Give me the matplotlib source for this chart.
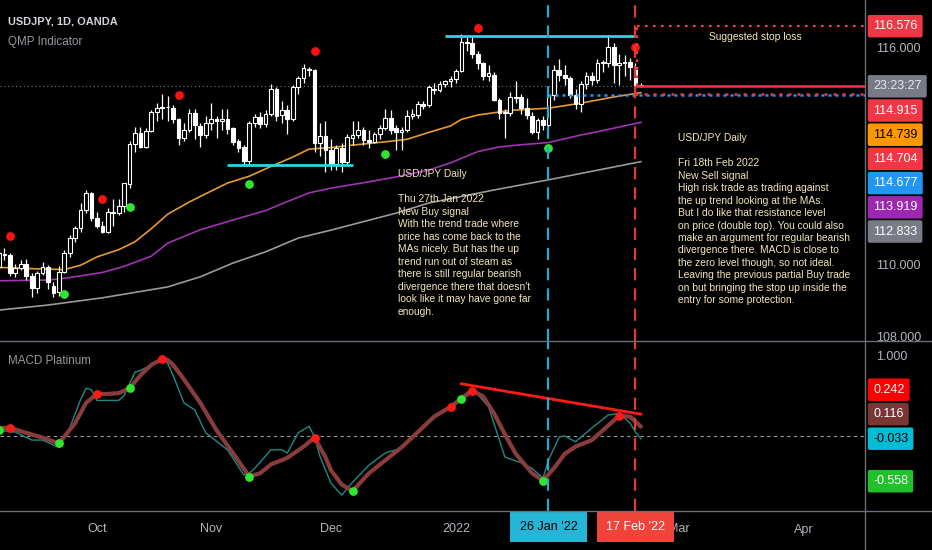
import numpy as np
import pandas as pd
import matplotlib
matplotlib.use("Agg")
import matplotlib.pyplot as plt
import matplotlib.transforms as mtransforms
from matplotlib.lines import Line2D

plt.rcParams['font.family'] = ['Liberation Sans', 'DejaVu Sans']

# trading-day calendar, bar 0 = Mon 6 Sep 2021, candles start on bar 1 (7 Sep)
calendar_start = '2021-09-06'
first_bar = 1

opens = [109.92, 110.28, 110.25, 109.75, 109.90, 110.01, 109.68, 109.35, 109.75, 109.93,
         109.40, 109.24, 109.79, 110.30, 110.72, 111.00, 111.50, 111.98, 111.27, 111.06,
         110.90, 111.45, 111.41, 111.62, 112.22, 113.32, 113.62, 113.25, 113.69, 114.20,
         114.31, 114.35, 114.31, 114.00, 113.48, 113.71, 114.17, 113.82, 113.57, 113.91,
         114.00, 113.96, 114.00, 113.75, 113.41, 113.25, 112.85, 113.89, 114.06, 113.87,
         114.15, 114.83, 114.12, 114.26, 114.00, 114.89, 115.14, 115.38, 115.36, 113.36,
         113.54, 113.15, 112.76, 113.20, 112.83, 113.50, 113.57, 113.71, 113.43, 113.38,
         113.59, 113.75, 114.05, 113.75, 113.66, 113.71, 114.10, 114.12, 114.42, 114.40,
         114.85, 114.81, 114.98, 115.07, 115.11, 115.35, 116.15, 116.12, 115.82, 115.55,
         115.20, 115.23, 114.55, 114.17, 114.17, 114.61, 114.61, 114.31, 114.10, 113.66,
         113.99, 113.85, 114.67, 115.36, 115.23, 115.14, 114.67, 114.43, 114.97, 115.20,
         115.09, 115.55, 115.55, 116.00, 115.50, 115.55, 115.60, 115.46, 114.94]
highs = [110.40, 110.45, 110.30, 110.00, 110.12, 110.15, 109.75, 109.82, 110.05, 109.98,
         109.50, 109.95, 110.40, 110.80, 111.05, 111.70, 112.05, 112.00, 111.45, 111.20,
         111.55, 111.80, 111.80, 112.25, 113.40, 113.80, 113.80, 113.75, 114.25, 114.45,
         114.70, 114.65, 114.40, 114.05, 113.90, 114.30, 114.30, 113.90, 114.10, 114.45,
         114.10, 114.30, 114.30, 113.80, 113.45, 113.30, 113.95, 114.15, 114.20, 114.25,
         114.97, 114.90, 114.50, 114.40, 114.95, 115.20, 115.52, 115.45, 115.40, 113.90,
         113.95, 113.45, 113.30, 113.35, 113.60, 113.95, 113.95, 113.80, 113.70, 113.65,
         113.85, 114.30, 114.25, 113.85, 113.80, 114.25, 114.30, 114.50, 114.50, 114.95,
         115.00, 115.05, 115.10, 115.20, 115.40, 116.35, 116.30, 116.30, 115.90, 115.60,
         115.50, 115.30, 114.60, 114.30, 114.75, 115.05, 114.70, 114.60, 114.20, 114.05,
         114.10, 114.70, 115.50, 115.68, 115.50, 115.20, 114.85, 115.05, 115.30, 115.30,
         115.68, 115.65, 116.34, 116.10, 115.80, 115.78, 115.70, 115.55, 115.00]
lows = [109.85, 110.12, 109.68, 109.65, 109.85, 109.55, 109.10, 109.20, 109.70, 109.30,
        109.10, 109.12, 109.75, 110.20, 110.60, 110.90, 111.40, 111.20, 111.00, 110.85,
        110.85, 111.05, 111.35, 111.45, 112.10, 113.10, 113.20, 113.20, 113.65, 113.95,
        114.00, 113.95, 113.90, 113.30, 113.40, 113.65, 113.45, 113.25, 113.50, 113.70,
        113.50, 113.70, 113.60, 113.30, 113.10, 112.73, 112.75, 113.80, 113.75, 113.80,
        114.10, 113.95, 113.90, 113.60, 113.95, 114.70, 115.00, 115.20, 113.10, 113.00,
        112.55, 112.60, 112.60, 112.55, 112.75, 113.30, 113.50, 113.30, 113.20, 113.35,
        113.45, 113.70, 113.60, 113.15, 113.15, 113.65, 114.00, 114.05, 114.30, 114.35,
        114.70, 114.75, 114.90, 114.90, 115.00, 115.30, 115.90, 115.70, 115.40, 115.10,
        115.05, 114.50, 114.00, 113.50, 114.10, 114.45, 114.15, 114.00, 113.60, 113.47,
        113.70, 113.75, 114.55, 115.05, 114.95, 114.60, 114.30, 114.20, 114.85, 114.95,
        115.00, 115.30, 115.45, 115.00, 114.95, 115.20, 115.10, 114.80, 114.90]
closes = [110.30, 110.24, 109.75, 109.89, 110.00, 109.67, 109.33, 109.75, 109.93, 109.52,
          109.21, 109.79, 110.32, 110.72, 111.01, 111.50, 111.96, 111.27, 111.06, 110.90,
          111.45, 111.41, 111.62, 112.23, 113.32, 113.62, 113.25, 113.69, 114.21, 114.31,
          114.35, 114.33, 114.00, 113.48, 113.71, 114.17, 113.85, 113.57, 113.91, 114.00,
          113.96, 114.00, 113.73, 113.38, 113.22, 112.85, 113.91, 114.06, 113.87, 114.15,
          114.83, 114.09, 114.26, 114.00, 114.89, 115.14, 115.41, 115.36, 113.36, 113.54,
          113.15, 112.74, 113.20, 112.83, 113.52, 113.57, 113.71, 113.43, 113.38, 113.59,
          113.75, 114.05, 113.71, 113.66, 113.71, 114.10, 114.14, 114.42, 114.38, 114.90,
          114.81, 114.98, 115.07, 115.11, 115.35, 116.15, 116.10, 115.82, 115.55, 115.20,
          115.27, 114.55, 114.17, 114.20, 114.61, 114.60, 114.31, 114.12, 113.66, 113.99,
          113.85, 114.67, 115.36, 115.23, 115.14, 114.67, 114.43, 114.97, 115.20, 115.09,
          115.57, 115.60, 116.00, 115.50, 115.55, 115.60, 115.46, 114.94, 114.915]

# moving averages read at selected bars
fast_bar = [1, 8, 13, 16, 19, 23, 26, 29, 32, 36, 40, 43, 47, 51, 55, 58, 62, 66, 72, 76,
            80, 84, 86, 89, 95, 102, 108, 114, 119]
fast_ma = [109.91, 109.87, 109.85, 109.97, 110.20, 110.40, 110.62, 110.98, 111.38, 111.72,
           112.02, 112.24, 112.43, 112.70, 112.96, 113.18, 113.22, 113.29, 113.38, 113.45,
           113.64, 113.82, 114.00, 114.12, 114.25, 114.31, 114.45, 114.62, 114.739]
mid_bar = [1, 10, 14, 20, 24, 29, 32, 38, 44, 50, 54, 58, 62, 68, 74, 80, 84, 89, 93, 97,
           102, 108, 111, 119]
mid_ma = [109.54, 109.56, 109.63, 109.77, 109.94, 110.22, 110.58, 110.95, 111.22, 111.48,
          111.73, 111.97, 112.10, 112.25, 112.41, 112.60, 112.80, 113.11, 113.24, 113.30,
          113.36, 113.57, 113.66, 113.919]
slow_bar = [1, 10, 20, 32, 38, 44, 50, 56, 62, 74, 80, 92, 102, 119]
slow_ma = [108.73, 108.87, 109.07, 109.37, 109.65, 110.03, 110.34, 110.72, 110.94, 111.41,
           111.69, 112.05, 112.33, 112.833]

# QMP signal dots
sell_bar = [3, 20, 34, 59, 89, 118]
sell_px = [110.78, 111.80, 114.67, 115.89, 116.52, 116.00]
buy_bar = [13, 25, 47, 72, 102]
buy_px = [109.18, 111.58, 112.22, 113.04, 113.20]

# levels
support = (43, 66, 112.75)
resistance = (83, 118, 116.30)
stop_loss = 116.576
sell_entry = 114.704
buy_entry = 114.677
buy_signal_bar = 102
sell_signal_bar = 118

# MACD Platinum
macd_bar = [1, 4, 7, 9, 11, 12, 14, 16, 17, 18, 19, 21, 23, 24, 26, 27, 29, 31, 32, 33,
            35, 37, 39, 43, 46, 47, 48, 51, 53, 54, 56, 58, 59, 60, 62, 64, 66, 69, 72, 75,
            78, 82, 86, 88, 91, 94, 97, 99, 101, 102, 104, 105, 107, 110, 113, 115, 117, 118, 119]
macd = [0.07, 0.05, -0.05, -0.05, -0.11, -0.14, 0.10, 0.45, 0.59, 0.57, 0.44, 0.44, 0.44,
        0.50, 0.79, 0.81, 0.88, 0.96, 0.90, 0.75, 0.41, 0.32, 0.04, -0.17, -0.48, -0.46,
        -0.40, -0.17, -0.17, -0.21, 0.04, 0.12, -0.01, -0.25, -0.58, -0.73, -0.57, -0.36,
        -0.21, -0.15, 0.04, 0.28, 0.48, 0.59, 0.36, -0.26, -0.33, -0.40, -0.52, -0.30,
        -0.01, 0.0, -0.07, 0.10, 0.26, 0.28, 0.16, 0.05, -0.033]
sig_bar = [1, 3, 5, 7, 9, 12, 15, 17, 19, 21, 23, 25, 27, 29, 31, 32, 33, 35, 38, 41, 44,
           47, 49, 51, 54, 57, 59, 61, 62, 64, 66, 69, 72, 75, 78, 81, 84, 86, 88, 90, 92,
           94, 96, 98, 99, 101, 103, 105, 107, 110, 112, 115, 117, 119]
signal = [0.10, 0.10, 0.06, 0.02, -0.02, -0.09, 0.16, 0.41, 0.52, 0.52, 0.53, 0.59, 0.75,
          0.88, 0.95, 0.94, 0.88, 0.70, 0.41, 0.07, -0.21, -0.50, -0.46, -0.35, -0.27,
          -0.13, -0.02, -0.26, -0.42, -0.60, -0.68, -0.46, -0.30, -0.14, 0.05, 0.24, 0.36,
          0.46, 0.56, 0.49, 0.28, 0.02, -0.22, -0.38, -0.46, -0.55, -0.40, -0.22, -0.13,
          -0.05, 0.07, 0.25, 0.24, 0.116]
macd_sell_bar = [3, 19, 31, 59, 84, 88, 115]
macd_sell = [0.10, 0.52, 0.95, -0.02, 0.36, 0.56, 0.25]
macd_buy_bar = [1, 12, 25, 47, 66, 86, 101]
macd_buy = [0.08, -0.09, 0.59, -0.50, -0.68, 0.46, -0.55]
div_bar = [86, 119]
div_val = [0.645, 0.27]
macd_tags = [(0.242, '#ff0000', 'white'), (0.116, '#7a3535', 'white'),
             (-0.033, '#00bcd4', 'black'), (-0.558, '#22c02a', 'white')]

note_buy = ("USD/JPY Daily\n\nThu 27th Jan 2022\nNew Buy signal\nWith the trend trade where\n"
            "price has come back to the\nMAs nicely. But has the up\ntrend run out of steam as\n"
            "there is still regular bearish\ndivergence there that doesn't\n"
            "look like it may have gone far\nenough.")
note_sell = ("USD/JPY Daily\n\nFri 18th Feb 2022\nNew Sell signal\n"
             "High risk trade as trading against\nthe up trend looking at the MAs.\n"
             "But I do like that resistance level\non price (double top). You could also\n"
             "make an argument for regular bearish\ndivergence there. MACD is close to\n"
             "the zero level though, so not ideal.\nLeaving the previous partial Buy trade\n"
             "on but bringing the stop up inside the\nentry for some protection.")

W, H = 932, 550
BG = 'black'
AXC = '#b2b5be'
NOTE = '#f3e4b8'
GRID = '#6a6d78'


def box(x0, y0, x1, y1):
    return [x0 / W, 1 - y1 / H, (x1 - x0) / W, (y1 - y0) / H]


px = 0.72  # points per pixel at dpi 100

if __name__ == '__main__':
    dates = pd.bdate_range(calendar_start, periods=175)

    fig = plt.figure(figsize=(9.32, 5.5), dpi=100, facecolor=BG)
    ax = fig.add_axes(box(0, 0, 865, 340.5), facecolor=BG)
    axm = fig.add_axes(box(0, 340.5, 865, 510.5), facecolor=BG, sharex=ax)
    for a in (ax, axm):
        for s in a.spines.values():
            s.set_visible(False)
        a.yaxis.tick_right()
        a.tick_params(axis='y', length=0, pad=11 * px, labelsize=9, labelcolor=AXC)
    ax.tick_params(axis='x', length=0, labelbottom=False)
    axm.tick_params(axis='x', length=0, pad=13 * px, labelsize=9, labelcolor=AXC)

    ax.set_xlim(1.18, 160.2)
    ax.set_ylim(107.89, 117.30)
    axm.set_ylim(-0.92, 1.18)

    ax.set_yticks([108, 110, 116])
    ax.set_yticklabels([f'{v:.3f}' for v in (108, 110, 116)])
    axm.set_yticks([1.0])
    axm.set_yticklabels(['1.000'])

    # month ticks (Feb sits under the highlighted date tag, so it is left out)
    mpos, mlab = [], []
    for per in pd.period_range('2021-10', '2022-04', freq='M'):
        if per.month == 2:
            continue
        idx = np.where((dates.year == per.year) & (dates.month == per.month))[0][0]
        mpos.append(idx)
        mlab.append(str(per.year) if per.month == 1 else dates[idx].strftime('%b'))
    axm.set_xticks(mpos)
    axm.set_xticklabels(mlab)

    # moving averages
    ax.plot(slow_bar, slow_ma, color='#9a9a9a', lw=1.2, zorder=2)
    ax.plot(mid_bar, mid_ma, color='#a232b4', lw=1.2, zorder=2)
    ax.plot(fast_bar, fast_ma, color='#e89a2c', lw=1.2, zorder=2)

    # candles (hollow up, filled down)
    o, h, l, c = map(np.array, (opens, highs, lows, closes))
    x = np.arange(first_bar, first_bar + len(o))
    lo, hi = np.minimum(o, c), np.maximum(o, c)
    ax.vlines(x, l, lo, color='white', lw=0.9, zorder=3)
    ax.vlines(x, hi, h, color='white', lw=0.9, zorder=3)
    ax.bar(x, np.maximum(hi - lo, 0.015), bottom=lo, width=0.68,
           color=np.where(c >= o, BG, 'white'), edgecolor='white', linewidth=0.8, zorder=4)

    ax.plot(sell_bar, sell_px, 'o', color='#ff1010', ms=6.3, mec='none', zorder=5)
    ax.plot(buy_bar, buy_px, 'o', color='#2ee62e', ms=6.3, mec='none', zorder=5)

    # support / resistance
    ax.hlines(support[2], support[0], support[1], color='#2bd4e4', lw=2.0, zorder=5)
    ax.hlines(resistance[2], resistance[0], resistance[1], color='#2bd4e4', lw=2.0, zorder=5)

    # trade lines
    right = ax.get_xlim()[1]
    ax.axhline(closes[-1], color='#777777', lw=0.8, ls=(0, (1, 2.5)), zorder=1)
    ax.hlines(closes[-1], sell_signal_bar, right, color='#f23645', lw=1.8, zorder=5)
    ax.hlines(buy_entry, buy_signal_bar, right, color='#2196f3', lw=1.8, ls=(0, (1.2, 1.6)), zorder=5)
    ax.hlines(sell_entry, sell_signal_bar, right, color='#f23645', lw=1.8, ls=(0, (1.2, 2.4)), zorder=5)
    ax.hlines(stop_loss, sell_signal_bar + 0.3, right, color='#f23645', lw=1.6, ls=(0, (1.2, 2.4)), zorder=5)
    ax.vlines(sell_signal_bar + 0.3, closes[-1], stop_loss, color='#f23645', lw=1.6, ls=(0, (1.2, 2.4)), zorder=5)

    for a in (ax, axm):
        a.axvline(buy_signal_bar, color='#27a9cf', lw=1.6, ls=(0, (5.5, 3.6)), zorder=6)
        a.axvline(sell_signal_bar, color='#e53935', lw=1.6, ls=(0, (5.5, 3.6)), zorder=6)

    # MACD panel
    axm.axhline(0, color='#9a9a9a', lw=0.8, ls=(0, (3, 3)), zorder=1)
    axm.plot(macd_bar, macd, color='#1f8a84', lw=1.0, zorder=2)
    axm.plot(sig_bar, signal, color='#8a3b3b', lw=3.0, solid_joinstyle='round',
             solid_capstyle='round', zorder=3)
    axm.plot(div_bar, div_val, color='#ff1a1a', lw=2.0, zorder=4)
    axm.plot(macd_sell_bar, macd_sell, 'o', color='#ff1a1a', ms=6.3, mec='none', zorder=5)
    axm.plot(macd_buy_bar, macd_buy, 'o', color='#2ee62e', ms=6.3, mec='none', zorder=5)

    # notes
    note_kw = dict(color=NOTE, fontsize=7.4, va='top', ha='left', linespacing=1.31, zorder=7)
    ax.text(74.3, 112.62, note_buy, **note_kw)
    ax.text(125.8, 113.62, note_sell, **note_kw)
    ax.text(140.1, 116.27, 'Suggested stop loss', color=NOTE, fontsize=7.4,
            ha='center', va='center', zorder=7)

    # price scale tags
    def tag(a, y, text, face, fg, dy=0.0):
        tr = mtransforms.blended_transform_factory(a.transAxes, a.transData)
        a.annotate(text, xy=(1, y), xycoords=tr, xytext=(8 * px, -dy * px),
                   textcoords='offset points', ha='left', va='center', fontsize=9,
                   color=fg, annotation_clip=False, zorder=20,
                   bbox=dict(boxstyle='round,pad=0.42,rounding_size=0.15', fc=face, ec='none'))

    tag(ax, stop_loss, f'{stop_loss:.3f}', '#f23645', 'white')
    stack = [('23:23:27', '#787b86', '#e6e8ee'),
             (f'{closes[-1]:.3f}', '#f23645', 'white'),
             (f'{fast_ma[-1]:.3f}', '#ff9800', 'black'),
             (f'{sell_entry:.3f}', '#f23645', 'white'),
             (f'{buy_entry:.3f}', '#2196f3', 'white'),
             (f'{mid_ma[-1]:.3f}', '#9c27b0', 'white'),
             (f'{slow_ma[-1]:.3f}', '#787b86', 'white')]
    for k, (txt, fc, tc) in enumerate(stack):
        tag(ax, closes[-1], txt, fc, tc, dy=k * 24.2)

    anchor = macd_tags[2][0]
    for k, (v, fc, tc) in enumerate(macd_tags[:3]):
        tag(axm, anchor, f'{v:.3f}', fc, tc, dy=-(2 - k) * 24.5)
    v, fc, tc = macd_tags[3]
    tag(axm, v, f'{v:.3f}', fc, tc)

    # date tags on time axis
    trx = mtransforms.blended_transform_factory(axm.transData, axm.transAxes)
    for b, fc, tc in ((buy_signal_bar, '#26b5d6', 'black'), (sell_signal_bar, '#f0433a', 'white')):
        axm.annotate(dates[b].strftime('%-d %b \'%y'), xy=(b, 0), xycoords=trx,
                     xytext=(0, -16.5 * px), textcoords='offset points', ha='center', va='center',
                     fontsize=9, color=tc, annotation_clip=False, zorder=20,
                     bbox=dict(boxstyle='square,pad=0.75', fc=fc, ec='none'))

    # panel separators
    for ln in (Line2D([0, 1], [1 - 340.5 / H] * 2), Line2D([0, 1], [1 - 510.5 / H] * 2),
               Line2D([865 / W] * 2, [0, 1])):
        ln.set_color(GRID)
        ln.set_linewidth(1.0)
        fig.add_artist(ln)

    fig.text(8 / W, 1 - 21 / H, 'USDJPY, 1D, OANDA', color='#d1d4dc', fontsize=7.9,
             fontweight='bold', va='center')
    fig.text(8 / W, 1 - 42 / H, 'QMP Indicator', color='#9598a1', fontsize=8.4, va='center')
    fig.text(8 / W, 1 - 361 / H, 'MACD Platinum', color='#9598a1', fontsize=8.4, va='center')

    plt.savefig('out.png', dpi=100, facecolor=BG)
